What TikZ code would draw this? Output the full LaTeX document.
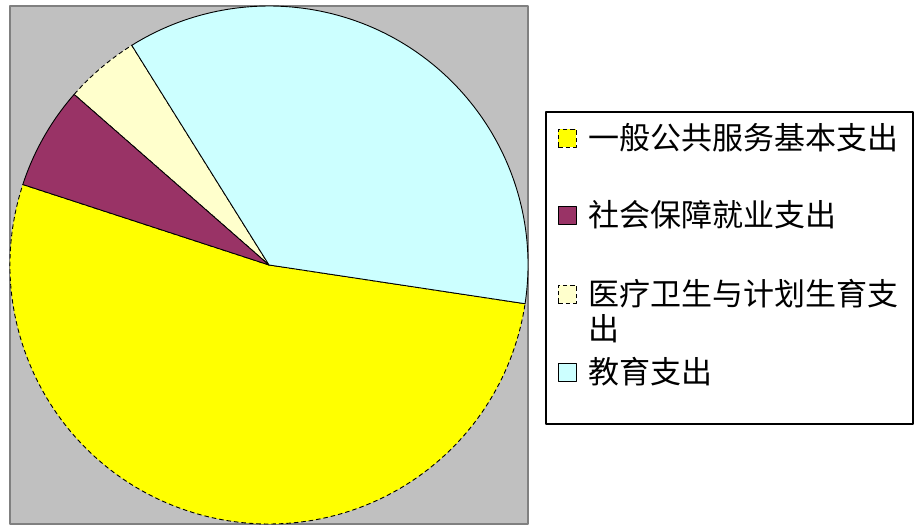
\documentclass[tikz,border=0pt]{standalone}
\usepackage{fontspec}
\newfontfamily\cjk{Noto Sans CJK SC}
\usetikzlibrary{positioning}
\definecolor{plotgray}{HTML}{C0C0C0}
\definecolor{gpyellow}{HTML}{FFFF00}
\definecolor{gpmaroon}{HTML}{993366}
\definecolor{gpcream}{HTML}{FFFFCC}
\definecolor{gpcyan}{HTML}{CCFFFF}
\begin{document}
\begin{tikzpicture}[x=1pt,y=1pt,line join=round,
    slice/.style={draw=black,line width=0.9pt},
    dashslice/.style={slice,dash pattern=on 4.5pt off 3pt},
    keybox/.style={draw=black,line width=0.9pt,minimum size=18pt,inner sep=0pt},
    item/.style={anchor=west,inner sep=0pt,align=left,font=\cjk\fontsize{31}{35}\selectfont}]
    \useasboundingbox (0,0) rectangle (915,527);
    \draw[fill=plotgray,draw=gray,line width=1.2pt] (10,3) rectangle (528,521);
    \coordinate (O) at (269,262);
    \def\R{259}
    \draw[dashslice,fill=gpyellow] (O) -- ++(161.9:\R) arc (161.9:351.4:\R) -- cycle;
    \draw[dashslice,fill=gpcream] (O) -- ++(122.0:\R) arc (122.0:138.8:\R) -- cycle;
    \draw[slice,fill=gpmaroon] (O) -- ++(138.8:\R) arc (138.8:161.9:\R) -- cycle;
    \draw[slice,fill=gpcyan] (O) -- ++(-8.6:\R) arc (-8.6:122.0:\R) -- cycle;
    % legend
    \draw[line width=1.2pt,fill=white] (546,103) rectangle (913,415);
    \node[keybox,fill=gpyellow,dash pattern=on 4.5pt off 3pt] (k1) at (567,389) {};
    \node[keybox,fill=gpmaroon] (k2) at (567,312) {};
    \node[keybox,fill=gpcream,dash pattern=on 4.5pt off 3pt] (k3) at (567,233) {};
    \node[keybox,fill=gpcyan] (k4) at (567,155) {};
    \node[item,right=12pt of k1] (t1) {一般公共服务基本支出};
    \node[item,right=12pt of k2] (t2) {社会保障就业支出};
    \node[item] (t3) at ([xshift=12pt,yshift=-17.5pt]k3.east) {医疗卫生与计划生育支\\出};
    \node[item,right=12pt of k4] (t4) {教育支出};
\end{tikzpicture}
\end{document}
